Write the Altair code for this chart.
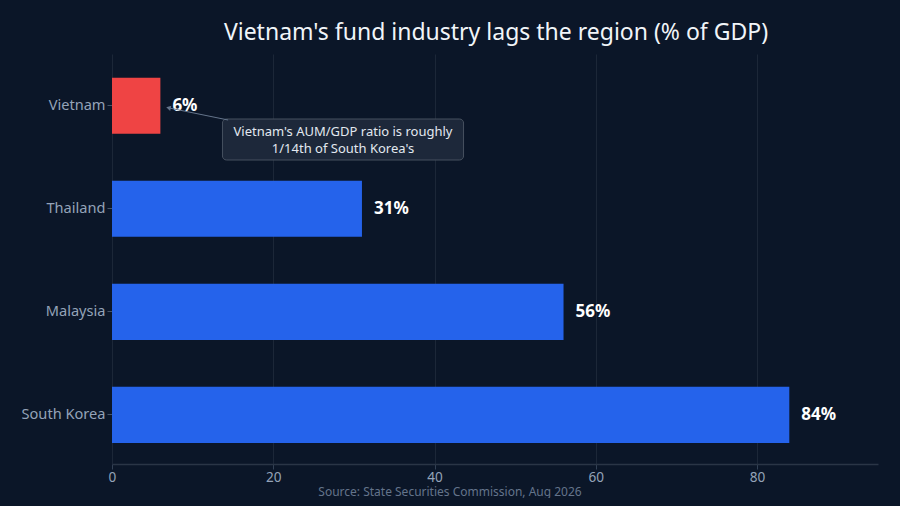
import altair as alt
import pandas as pd

countries = ["Vietnam", "Thailand", "Malaysia", "South Korea"]
values = [6, 31, 56, 84]
labels = ["6%", "31%", "56%", "84%"]
colors = ["#ef4444", "#2563eb", "#2563eb", "#2563eb"]

note_lines = ["Vietnam's AUM/GDP ratio is roughly", "1/14th of South Korea's"]

BG = "#0b1628"
W, H = 766, 410

df = pd.DataFrame({"country": countries, "value": values, "label": labels, "color": colors})

y_enc = alt.Y("country:N", sort=countries, title=None,
              scale=alt.Scale(paddingInner=0.456, paddingOuter=0.218, align=0.53),
              axis=alt.Axis(labelColor="#94a3b8", labelFontSize=14.6, labelFont="Noto Sans",
                            tickColor="#475569", tickSize=5, domain=False, labelPadding=2, grid=False))
x_enc = alt.X("value:Q", title=None,
              scale=alt.Scale(domain=[0, 95], nice=False),
              axis=alt.Axis(values=[0, 20, 40, 60, 80], labelColor="#94a3b8", labelFontSize=13.6,
                            labelFont="Noto Sans", tickColor="#334155", tickSize=5,
                            domainColor="#2a3546", domainWidth=1.5, labelFlush=False,
                            gridColor="#1c2738", gridWidth=1, labelPadding=1))

bars = alt.Chart(df).mark_bar(cornerRadius=0).encode(
    x=x_enc, y=y_enc, color=alt.Color("color:N", scale=None)
)

vals = alt.Chart(df).mark_text(align="left", baseline="middle", dx=12, fontSize=17,
                               fontWeight="bold", color="white", font="Noto Sans").encode(
    x="value:Q", y=alt.Y("country:N", sort=countries), text="label:N"
)

ann = pd.DataFrame({"x1": [13.7], "x2": [43.6]})
box = alt.Chart(ann).mark_rect(fill="#1e293b", stroke="#4b5563", strokeWidth=1,
                               cornerRadius=4, opacity=0.95).encode(
    x="x1:Q", x2="x2:Q", y=alt.value(65), y2=alt.value(106)
)

txt_df = pd.DataFrame({"x": [28.65, 28.65], "line": note_lines, "py": [78, 95]})
note = alt.Chart(txt_df).mark_text(align="center", baseline="middle", fontSize=13,
                                   color="#e2e8f0", font="Noto Sans").encode(
    x="x:Q", y=alt.Y("py:Q", scale=None), text="line:N"
)

line_df = pd.DataFrame({"x1": [7.1], "x2": [14.4]})
conn = alt.Chart(line_df).mark_rule(color="#64748b", strokeWidth=1).encode(
    x="x1:Q", x2="x2:Q", y=alt.value(54), y2=alt.value(66)
)
head = alt.Chart(line_df).mark_point(shape="triangle", filled=True, size=28,
                                     color="#64748b", angle=283, opacity=1).encode(
    x="x1:Q", y=alt.value(54)
)

source = alt.Chart(pd.DataFrame({"t": ["Source: State Securities Commission, Aug 2026"]})).mark_text(
    align="center", baseline="middle", fontSize=12, color="#64748b", font="Noto Sans"
).encode(x=alt.value(338), y=alt.value(H + 27.5), text="t:N")

chart = alt.layer(bars, vals, box, conn, head, note, source).properties(
    width=W, height=H,
    background=BG,
    padding={"left": 104, "top": 46, "right": 14, "bottom": 34},
    autosize=alt.AutoSizeParams(type="none"),
    title=alt.TitleParams("Vietnam's fund industry lags the region (% of GDP)",
                          color="#f1f5f9", fontSize=23, font="Noto Sans",
                          fontWeight="normal", anchor="middle", offset=9, dx=1),
).configure_view(stroke=None)

# give the page itself the same dark background as the chart
_patched = False
try:
    import altair.utils.html as _h
    _orig = _h.TEMPLATES["standard"]

    class _DarkPage:
        def render(self, *a, **kw):
            out = _orig.render(*a, **kw)
            css = "<style>html,body{background:%s;}</style>" % BG
            if "<head>" in out:
                return out.replace("<head>", "<head>" + css, 1)
            return css + out

    _h.TEMPLATES["standard"] = _DarkPage()
    _patched = True
except Exception:
    _patched = False

try:
    chart.save("out.html", embed_options={"renderer": "svg", "actions": False})
except Exception:
    if _patched:
        _h.TEMPLATES["standard"] = _orig
    chart.save("out.html", embed_options={"renderer": "svg", "actions": False})
